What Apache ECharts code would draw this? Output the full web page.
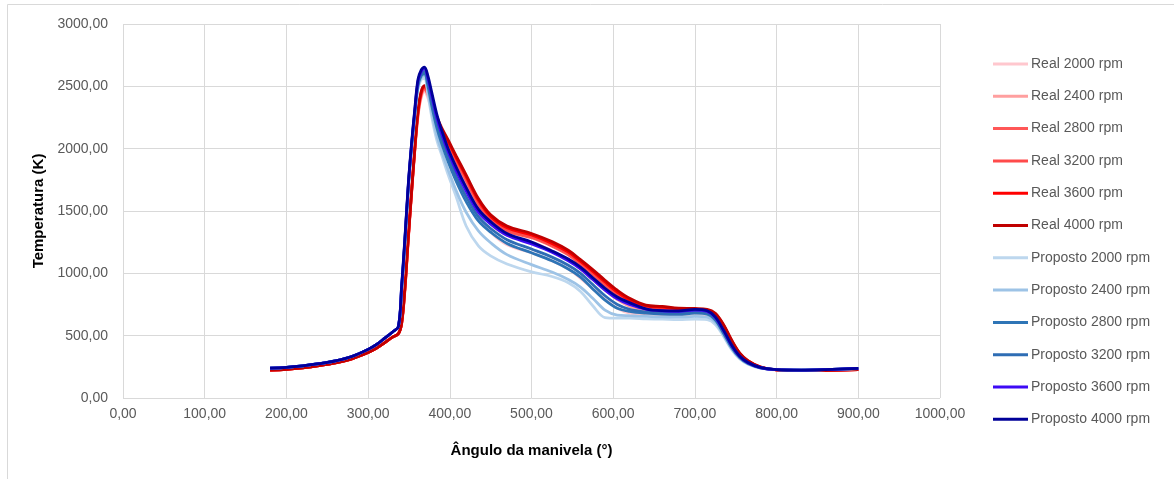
<!DOCTYPE html>
<html>
<head>
<meta charset="utf-8">
<script src="https://cdn.jsdelivr.net/npm/echarts@6/dist/echarts.min.js"></script>
<style>
html,body{margin:0;padding:0;background:#fff;}
#c{width:1174px;height:479px;}
</style>
</head>
<body>
<div id="c"></div>
<script>
// Crank angle (degrees)
const angles = [180,200,220,240,260,280,300,310,320,330,337,341,345,349,353,357,361,365,369,373,378,384,390,398,408,420,435,450,470,500,525,545,560,575,590,605,620,640,660,680,700,715,725,735,745,755,765,780,800,830,860,900];

const seriesNames = ['Real 2000 rpm','Real 2400 rpm','Real 2800 rpm','Real 3200 rpm','Real 3600 rpm','Real 4000 rpm',
  'Proposto 2000 rpm','Proposto 2400 rpm','Proposto 2800 rpm','Proposto 3200 rpm','Proposto 3600 rpm','Proposto 4000 rpm'];
const seriesColors = ['#FFC7CE','#FF9F9F','#FF5757','#FF4B4B','#FF0000','#C00000',
  '#BDD7EE','#9DC3E6','#2E75B6','#2E6DB4','#3D0AF5','#000099'];

// Temperature (K)
const real2000 = [224,230,242,259,281,314,365,398,442,488,515, 590,855,1245,1615,1965,2250,2405,2455, 2410,2300,2160,2060,1950,1810,1650,1460,1330,1230,1165, 1100,1035,960,875,790,720,680,665,660,655,660,655,630,545,430,340,288,245,225,220,222,228];
const real2400 = [224,230,242,259,281,314,365,398,442,488,515, 592,860,1250,1620,1970,2260,2420,2470, 2430,2330,2200,2105,2000,1865,1715,1525,1395,1305,1250, 1180,1110,1035,950,865,790,735,705,698,690,690,686,658,568,445,348,292,246,225,220,222,228];
const real2800 = [224,230,242,259,281,314,365,398,442,488,515, 594,865,1255,1625,1975,2270,2430,2478, 2440,2345,2215,2125,2025,1895,1745,1555,1425,1338,1285, 1218,1148,1070,988,902,822,760,720,712,702,700,695,665,575,450,351,294,247,225,220,222,228];
const real3200 = [224,230,242,259,281,314,365,398,442,488,515, 596,870,1260,1630,1980,2280,2440,2485, 2450,2355,2230,2140,2040,1910,1760,1570,1440,1350,1295, 1228,1158,1082,1000,915,835,772,728,720,708,706,700,670,580,455,354,296,248,225,220,222,228];
const real3600 = [224,230,242,259,281,314,365,398,442,488,515, 598,875,1265,1635,1985,2290,2450,2495, 2460,2370,2245,2155,2055,1925,1775,1585,1455,1365,1308, 1240,1170,1095,1015,930,850,785,738,728,715,712,706,675,585,460,357,298,249,225,220,222,228];
const real4000 = [224,230,242,259,281,314,365,398,442,488,515, 600,880,1270,1640,1990,2300,2460,2505, 2470,2380,2260,2170,2070,1940,1790,1600,1470,1380,1320, 1255,1185,1110,1030,945,865,800,745,735,720,718,712,680,590,465,360,300,250,225,220,222,228];
const prop2000 = [240,246,258,275,298,333,390,428,478,530,572, 850,1230,1650,1980,2250,2475,2555,2562, 2440,2250,2070,1950,1790,1610,1380,1220,1140,1075,1012, 975,925,855,740,645,640,640,635,632,628,632,628,590,495,388,313,271,240,227,224,227,236];
const prop2400 = [240,246,258,275,298,333,390,428,478,530,572, 860,1240,1660,1990,2260,2490,2570,2582, 2470,2290,2110,1980,1830,1660,1490,1340,1245,1150,1070, 1010,950,890,800,705,665,660,655,650,648,655,648,608,505,395,318,274,241,227,224,227,236];
const prop2800 = [240,246,258,275,298,333,390,428,478,530,572, 870,1250,1670,2000,2270,2505,2585,2600, 2510,2340,2170,2040,1895,1735,1575,1420,1330,1240,1165, 1100,1035,970,875,785,720,695,680,672,670,680,672,625,520,405,322,277,242,227,224,228,237];
const prop3200 = [240,246,258,275,298,333,390,428,478,530,572, 880,1260,1680,2010,2280,2520,2600,2620, 2540,2380,2210,2080,1935,1775,1615,1455,1360,1270,1195, 1130,1065,1000,910,820,750,712,690,680,680,690,682,635,530,412,328,280,243,227,224,228,237];
const prop3600 = [240,246,258,275,298,333,390,428,478,530,572, 890,1270,1690,2020,2295,2540,2618,2642, 2570,2420,2250,2120,1975,1820,1660,1490,1395,1305,1235, 1170,1100,1035,950,865,795,750,712,698,695,705,695,645,540,420,333,283,244,227,224,228,238];
const prop4000 = [240,246,258,275,298,333,390,428,478,530,572, 900,1280,1700,2030,2310,2555,2632,2655, 2590,2450,2280,2150,2000,1850,1690,1515,1415,1320,1252, 1180,1115,1050,965,880,810,765,715,700,698,710,700,650,545,425,335,285,245,228,224,228,238];

const allValues = [real2000,real2400,real2800,real3200,real3600,real4000,prop2000,prop2400,prop2800,prop3200,prop3600,prop4000];

const fmt = v => v.toFixed(2).replace('.', ',');
const FONT = '"Liberation Sans", Arial, sans-serif';

const chart = echarts.init(document.getElementById('c'), null, {renderer:'canvas'});
chart.setOption({
  animation: false,
  backgroundColor: '#ffffff',
  graphic: [
    {type:'line', shape:{x1:7.5, y1:4.5, x2:1174, y2:4.5}, style:{stroke:'#d9d9d9', lineWidth:1}, silent:true},
    {type:'line', shape:{x1:7.5, y1:4.5, x2:7.5, y2:479}, style:{stroke:'#d9d9d9', lineWidth:1}, silent:true}
  ],
  grid: {left:123, right:234, top:24, bottom:81, containLabel:false},
  legend: {
    orient:'vertical', left:993, top:57, padding:0,
    icon:'rect', itemWidth:35, itemHeight:3, itemGap:18.3,
    textStyle:{fontFamily:FONT, fontSize:14, color:'#595959', lineHeight:14, padding:[0,0,0,-2]},
    data: seriesNames
  },
  xAxis: {
    type:'value', min:0, max:1000, interval:100,
    name:'Ângulo da manivela (°)', nameLocation:'middle', nameGap:45,
    nameTextStyle:{fontFamily:FONT, fontSize:15, fontWeight:'bold', color:'#000'},
    axisLine:{show:false}, axisTick:{show:false},
    axisLabel:{formatter:fmt, fontFamily:FONT, fontSize:14, color:'#595959', margin:9},
    splitLine:{show:true, lineStyle:{color:'#d9d9d9', width:1}}
  },
  yAxis: {
    type:'value', min:0, max:3000, interval:500,
    name:'Temperatura (K)', nameLocation:'middle', nameGap:73, nameRotate:90,
    nameTextStyle:{fontFamily:FONT, fontSize:15, fontWeight:'bold', color:'#000'},
    axisLine:{show:false}, axisTick:{show:false},
    axisLabel:{formatter:fmt, fontFamily:FONT, fontSize:14, color:'#595959', margin:15},
    splitLine:{show:true, lineStyle:{color:'#d9d9d9', width:1}}
  },
  series: seriesNames.map((n,i) => ({
    name:n, type:'line', smooth:0.35, symbol:'none', showSymbol:false,
    data: angles.map((a,k) => [a, allValues[i][k]]),
    lineStyle:{color:seriesColors[i], width:2.75},
    itemStyle:{color:seriesColors[i]},
    z: 2 + i
  }))
});
</script>
</body>
</html>
